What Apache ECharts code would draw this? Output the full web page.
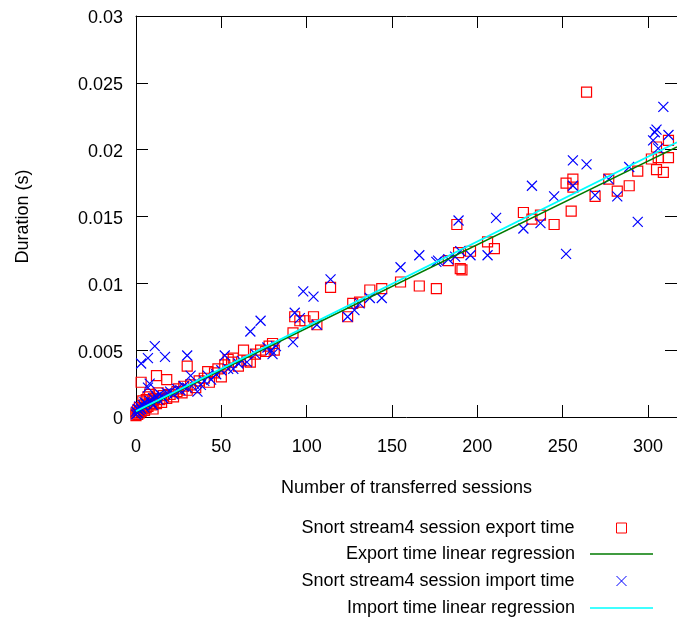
<!DOCTYPE html>
<html>
<head>
<meta charset="utf-8">
<script src="https://cdn.jsdelivr.net/npm/echarts@6/dist/echarts.min.js"></script>
<style>
  html, body { margin: 0; padding: 0; background: #fff; }
  #chart { width: 677px; height: 621px; }
</style>
</head>
<body>
<div id="chart"></div>
<script>
// Session transfer timings: [number of sessions, duration in seconds]
const exportTimes = [
  [0,0.0001],[0,0.0003],[1,0.0002],[1,0.0005],[2,0.0003],[2,0.0007],[3,0.0004],[3,0.0026],
  [4,0.0006],[4,0.0012],[5,0.0005],[5,0.0009],[6,0.0007],[6,0.0013],[7,0.0008],[7,0.0015],
  [8,0.0010],[8,0.0017],[9,0.0009],[10,0.0012],[10,0.0006],[11,0.0014],[12,0.0031],[12,0.0010],
  [13,0.0018],[14,0.0013],[15,0.0011],[16,0.0016],[18,0.0028],[18,0.0014],[20,0.0017],[22,0.0015],
  [24,0.0019],[25,0.0021],[27,0.0018],[28,0.0023],[30,0.0038],[30,0.0020],[32,0.0024],[35,0.0022],
  [37,0.0027],[40,0.0029],[42,0.0034],[43,0.0026],[46,0.0033],[48,0.0036],[50,0.0030],[52,0.0039],
  [54,0.0043],[56,0.0041],[57,0.0044],[60,0.0038],[63,0.0050],[65,0.0042],[67,0.0041],[70,0.0047],
  [73,0.0050],[76,0.0049],[78,0.0053],[80,0.0055],[81,0.0050],[92,0.0063],[93,0.0075],[96,0.0072],
  [99,0.0072],[104,0.0075],[106,0.0069],[114,0.0097],[124,0.0075],[127,0.0085],[131,0.0086],
  [137,0.0095],[144,0.0096],[155,0.0101],[166,0.0098],[176,0.0096],[183,0.0117],[188,0.0144],
  [189,0.0123],[190,0.0111],[191,0.0110],[196,0.0124],[206,0.0131],[210,0.0126],[227,0.0153],
  [232,0.0148],[237,0.0151],[245,0.0144],[252,0.0175],[255,0.0154],[256,0.0178],[256,0.0172],
  [264,0.0243],[269,0.0165],[277,0.0178],[282,0.0169],[289,0.0173],[294,0.0184],[302,0.0193],
  [305,0.0202],[305,0.0185],[306,0.0194],[309,0.0183],[312,0.0194],[312,0.0207]
];
const importTimes = [
  [0,0.0002],[0,0.0004],[1,0.0003],[1,0.0006],[2,0.0005],[2,0.0008],[3,0.0040],[3,0.0006],
  [4,0.0009],[5,0.0007],[5,0.0011],[6,0.0010],[7,0.0022],[7,0.0044],[8,0.0012],[8,0.0025],
  [9,0.0011],[10,0.0014],[10,0.0009],[11,0.0053],[12,0.0015],[13,0.0013],[14,0.0017],[15,0.0016],
  [16,0.0014],[17,0.0045],[18,0.0018],[20,0.0019],[22,0.0017],[24,0.0021],[26,0.0020],[28,0.0023],
  [30,0.0046],[30,0.0022],[32,0.0031],[34,0.0025],[36,0.0019],[38,0.0024],[40,0.0027],[42,0.0031],
  [44,0.0028],[47,0.0032],[50,0.0035],[52,0.0046],[54,0.0036],[57,0.0036],[60,0.0040],[62,0.0042],
  [65,0.0041],[67,0.0064],[70,0.0047],[73,0.0072],[77,0.0052],[79,0.0050],[80,0.0047],[82,0.0053],
  [92,0.0056],[93,0.0078],[96,0.0074],[98,0.0094],[104,0.0090],[106,0.0069],[114,0.0103],
  [124,0.0075],[128,0.0080],[131,0.0085],[137,0.0089],[144,0.0089],[155,0.0112],[166,0.0121],
  [176,0.0116],[177,0.0117],[183,0.0118],[187,0.0120],[189,0.0147],[190,0.0124],[196,0.0121],
  [206,0.0121],[211,0.0149],[227,0.0141],[232,0.0173],[237,0.0145],[245,0.0165],[252,0.0122],
  [256,0.0173],[256,0.0192],[264,0.0189],[269,0.0166],[277,0.0178],[282,0.0165],[289,0.0187],
  [294,0.0146],[303,0.0207],[304,0.0213],[305,0.0215],[306,0.0201],[309,0.0232],[312,0.0211]
];
// Fitted regression lines, given by their end points
const fitX = [0, 317];
const exportFitY = [0.00039, 0.02021];
const importFitY = [0.00044, 0.02055];

const seriesNames = [
  'Snort stream4 session export time',
  'Export time linear regression',
  'Snort stream4 session import time',
  'Import time linear regression'
];

const FONT = '"Liberation Sans", Arial, sans-serif';
const chart = echarts.init(document.getElementById('chart'), null, { renderer: 'canvas' });

const axisCommon = {
  type: 'value',
  axisLine: { show: true, onZero: false, lineStyle: { color: '#000', width: 1 } },
  axisTick: { show: true, inside: true, length: 12, lineStyle: { color: '#000', width: 1 } },
  splitLine: { show: false }
};

const legendText = { fontSize: 18, color: '#000', fontFamily: FONT };

// Key rows: marker rows keep a small square box centred under the line samples
function markerRow(name, top) {
  return {
    data: [name], orient: 'vertical', right: 50, top: top, padding: 0,
    itemWidth: 10, itemHeight: 10, align: 'right', selectedMode: false,
    itemStyle: { borderWidth: 1 },
    textStyle: Object.assign({ padding: [0, 37, 0, 0] }, legendText)
  };
}
function lineRow(name, top) {
  return {
    data: [{ name: name, icon: 'rect' }], orient: 'vertical', right: 24, top: top, padding: 0,
    itemWidth: 63, itemHeight: 1.6, align: 'right', selectedMode: false,
    textStyle: Object.assign({ padding: [0, 10, 0, 0] }, legendText)
  };
}

const crossPath = 'path://M0,0L10,10M0,10L10,0';

chart.setOption({
  animation: false,
  backgroundColor: '#fff',
  grid: { left: 136, top: 16, width: 547, height: 401 },
  xAxis: [
    Object.assign({}, axisCommon, {
      position: 'bottom', min: 0, max: 317, interval: 50,
      name: 'Number of transferred sessions', nameLocation: 'middle', nameGap: 62,
      nameTextStyle: { fontSize: 18, color: '#000', fontFamily: FONT },
      axisLabel: { margin: 21, fontSize: 18, color: '#000', fontFamily: FONT, showMaxLabel: false }
    }),
    Object.assign({}, axisCommon, {
      position: 'top', min: 0, max: 317, interval: 50,
      axisLabel: { show: false }
    })
  ],
  yAxis: [
    Object.assign({}, axisCommon, {
      position: 'left', min: 0, max: 0.03, interval: 0.005,
      name: 'Duration (s)', nameLocation: 'middle', nameGap: 104, nameRotate: 90,
      nameTextStyle: { fontSize: 18, color: '#000', fontFamily: FONT },
      axisLabel: { margin: 13, fontSize: 18, color: '#000', fontFamily: FONT,
                   verticalAlign: 'top', lineHeight: 5 }
    }),
    Object.assign({}, axisCommon, {
      position: 'right', min: 0, max: 0.03, interval: 0.005,
      axisLabel: { show: false }
    })
  ],
  legend: [
    markerRow(seriesNames[0], 519),
    lineRow(seriesNames[1], 545),
    markerRow(seriesNames[2], 572),
    lineRow(seriesNames[3], 599)
  ],
  series: [
    {
      name: seriesNames[0], type: 'scatter', data: exportTimes,
      symbol: 'rect', symbolSize: 10,
      itemStyle: { color: 'rgba(0,0,0,0)', borderColor: '#ff0000', borderWidth: 1.2, opacity: 1 }
    },
    {
      name: seriesNames[1], type: 'line',
      data: fitX.map((x, i) => [x, exportFitY[i]]),
      symbol: 'none', showSymbol: false,
      lineStyle: { color: '#007a00', width: 1.5 },
      itemStyle: { color: '#007a00' }
    },
    {
      name: seriesNames[2], type: 'scatter', data: importTimes,
      symbol: crossPath, symbolSize: 10,
      itemStyle: { color: 'rgba(0,0,0,0)', borderColor: '#0000ff', borderWidth: 1.2, opacity: 1 }
    },
    {
      name: seriesNames[3], type: 'line',
      data: fitX.map((x, i) => [x, importFitY[i]]),
      symbol: 'none', showSymbol: false,
      lineStyle: { color: '#00ffff', width: 1.8 },
      itemStyle: { color: '#00ffff' }
    }
  ]
});
</script>
</body>
</html>
